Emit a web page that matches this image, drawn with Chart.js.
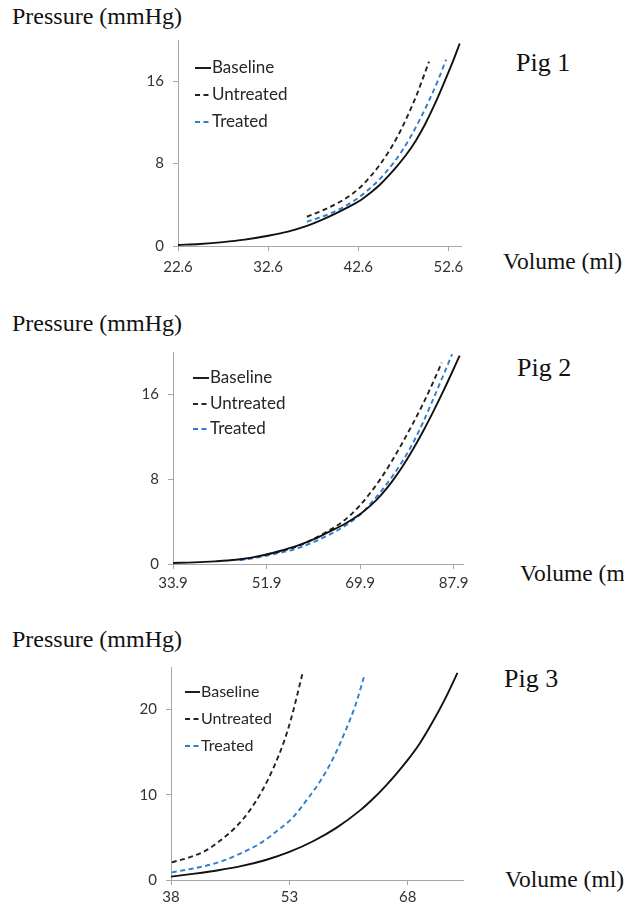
<!DOCTYPE html>
<html><head><meta charset="utf-8">
<script src="https://cdn.jsdelivr.net/npm/chart.js@4.4.0/dist/chart.umd.min.js"></script>
<style>
html,body{margin:0;padding:0;background:#fff;width:624px;height:909px;overflow:hidden;position:relative}
canvas{position:absolute;left:0}
.t{position:absolute;font-family:"Liberation Serif","Times New Roman",serif;color:#111;line-height:1;white-space:nowrap}
</style></head><body>

<div class="t" style="left:12px;top:4px;font-size:24px">Pressure (mmHg)</div>
<div class="t" style="left:516px;top:50px;font-size:26px">Pig 1</div>
<div class="t" style="left:503px;top:250px;font-size:23.5px">Volume (ml)</div>

<div class="t" style="left:12px;top:311px;font-size:24px">Pressure (mmHg)</div>
<div class="t" style="left:517px;top:355px;font-size:26px">Pig 2</div>
<div class="t" style="left:520px;top:562px;font-size:23.5px">Volume (ml)</div>

<div class="t" style="left:12px;top:627px;font-size:24px">Pressure (mmHg)</div>
<div class="t" style="left:504px;top:666px;font-size:26px">Pig 3</div>
<div class="t" style="left:505px;top:868px;font-size:23.5px">Volume (ml)</div>

<canvas id="c1" width="624" height="300" style="top:0px"></canvas>
<canvas id="c2" width="624" height="305" style="top:300px"></canvas>
<canvas id="c3" width="624" height="304" style="top:605px"></canvas>

<script>
// ---------- DATA ----------
const seriesNames = ['Baseline', 'Untreated', 'Treated'];

// Pig 1
const pig1XTicks = [22.6, 32.6, 42.6, 52.6];
const pig1YTicks = [0, 8, 16];
const pig1BaselineVol   = [22.6, 25.0, 27.6, 30.0, 32.6, 34.8, 36.9, 39.0, 41.0, 42.9, 44.0, 45.0, 46.0, 47.0, 48.0, 49.0, 50.0, 51.0, 52.0, 53.0, 53.86];
const pig1BaselinePress = [0.1, 0.2, 0.38, 0.62, 1.0, 1.4, 1.95, 2.7, 3.55, 4.46, 5.2, 5.95, 6.85, 7.85, 8.95, 10.25, 11.8, 13.6, 15.6, 17.7, 19.66];
const pig1UntreatedVol   = [36.9, 38.9, 40.9, 42.0, 43.0, 44.0, 45.0, 46.0, 47.0, 48.0, 49.0, 50.45];
const pig1UntreatedPress = [2.84, 3.55, 4.46, 5.1, 5.85, 6.8, 7.9, 9.2, 10.7, 12.5, 14.5, 17.9];
const pig1TreatedVol   = [36.9, 39.6, 42.25, 44.4, 45.5, 46.5, 47.5, 48.5, 49.5, 50.5, 51.5, 52.35];
const pig1TreatedPress = [2.35, 3.2, 4.46, 6.0, 7.0, 8.05, 9.3, 10.75, 12.4, 14.2, 16.2, 18.1];

// Pig 2
const pig2XTicks = [33.9, 51.9, 69.9, 87.9];
const pig2YTicks = [0, 8, 16];
const pig2BaselineVol   = [33.9, 38.0, 42.0, 46.0, 49.0, 51.9, 55.0, 58.0, 61.15, 64.0, 67.0, 70.0, 72.0, 74.0, 76.0, 78.0, 80.0, 82.0, 84.0, 86.0, 89.06];
const pig2BaselinePress = [0.1, 0.15, 0.25, 0.4, 0.6, 0.9, 1.3, 1.75, 2.36, 3.05, 3.8, 4.75, 5.55, 6.55, 7.75, 9.15, 10.75, 12.5, 14.4, 16.4, 19.65];
const pig2UntreatedVol   = [51.9, 55.0, 58.5, 62.8, 66.0, 68.0, 70.0, 72.0, 74.0, 76.0, 78.0, 80.0, 82.0, 84.0, 85.6];
const pig2UntreatedPress = [0.9, 1.25, 1.8, 2.85, 3.8, 4.6, 5.6, 6.8, 8.15, 9.7, 11.4, 13.2, 15.1, 17.2, 19.0];
const pig2TreatedVol   = [46.7, 50.0, 54.0, 58.0, 62.0, 66.0, 70.0, 72.0, 74.0, 76.0, 78.0, 80.0, 82.0, 84.0, 86.0, 87.6];
const pig2TreatedPress = [0.35, 0.6, 1.0, 1.5, 2.3, 3.3, 4.7, 5.75, 6.9, 8.2, 9.65, 11.35, 13.35, 15.6, 17.9, 19.8];

// Pig 3
const pig3XTicks = [38, 53, 68];
const pig3YTicks = [0, 10, 20];
const pig3BaselineVol   = [38.0, 41.0, 44.0, 47.0, 50.0, 53.0, 56.0, 59.0, 62.0, 63.5, 65.0, 66.5, 68.0, 69.5, 71.0, 72.7, 74.3];
const pig3BaselinePress = [0.4, 0.75, 1.15, 1.65, 2.35, 3.3, 4.55, 6.15, 8.2, 9.45, 10.85, 12.4, 14.1, 16.0, 18.3, 21.2, 24.3];
const pig3UntreatedVol   = [38.1, 40.8, 42.5, 44.2, 46.3, 48.0, 49.5, 51.0, 52.3, 53.3, 54.65];
const pig3UntreatedPress = [2.07, 2.8, 3.5, 4.6, 6.3, 8.2, 10.4, 13.2, 16.2, 19.2, 24.2];
const pig3TreatedVol   = [38.1, 40.8, 43.0, 45.05, 47.0, 49.3, 51.5, 53.5, 55.2, 56.9, 58.5, 60.1, 61.4, 62.5];
const pig3TreatedPress = [0.9, 1.35, 1.8, 2.4, 3.2, 4.3, 5.8, 7.4, 9.4, 11.6, 14.2, 17.5, 20.6, 24.0];

// ---------- STYLE / LAYOUT ----------
const AXIS = '#a6a6a6';
const TICKCOL = '#333333';
const styles = [
  { borderColor: '#111111', borderWidth: 1.9, borderDash: [] },
  { borderColor: '#222222', borderWidth: 1.9, borderDash: [5, 3.5] },
  { borderColor: '#2e7dd1', borderWidth: 1.9, borderDash: [5, 3.5] }
];

const legendPlugin = {
  id: 'inLegend',
  afterDraw(chart, args, opts) {
    const ctx = chart.ctx;
    ctx.save();
    chart.data.datasets.forEach((ds, i) => {
      const y = opts.rows[i];
      ctx.strokeStyle = ds.borderColor;
      ctx.lineWidth = ds.borderWidth;
      ctx.setLineDash(ds.borderDash || []);
      ctx.beginPath();
      ctx.moveTo(opts.x0, y);
      ctx.lineTo(opts.x1, y);
      ctx.stroke();
      ctx.setLineDash([]);
      ctx.fillStyle = '#262626';
      ctx.font = opts.font;
      ctx.textBaseline = 'middle';
      ctx.textAlign = 'left';
      ctx.fillText(ds.label, opts.tx, y);
    });
    ctx.restore();
  }
};

function makeData(vols, presses) {
  return vols.map((v, i) => v.map((x, j) => ({ x: x, y: presses[i][j] })));
}

function makeChart(id, L, series, xTicks, yTicks) {
  const H = document.getElementById(id).height;
  const yW = 40, xH = 30;
  const datasets = series.map((pts, i) => Object.assign({
    label: seriesNames[i],
    data: pts,
    pointRadius: 0,
    fill: false,
    cubicInterpolationMode: 'monotone'
  }, styles[i]));
  return new Chart(document.getElementById(id), {
    type: 'line',
    data: { datasets },
    plugins: [legendPlugin],
    options: {
      responsive: false,
      animation: false,
      devicePixelRatio: 1,
      layout: { padding: { left: L.left - yW, right: 624 - L.right, top: L.top, bottom: H - L.bottom - xH } },
      plugins: {
        legend: { display: false },
        tooltip: { enabled: false },
        inLegend: L.legend
      },
      scales: {
        x: {
          type: 'linear', min: L.xmin, max: L.xmax,
          afterFit: s => { s.height = xH; },
          afterBuildTicks: s => { s.ticks = xTicks.map(v => ({ value: v })); },
          grid: { display: true, drawOnChartArea: false, drawTicks: true, tickLength: 5, color: AXIS },
          border: { display: true, color: AXIS, width: 1 },
          ticks: { color: TICKCOL, font: { family: 'Lato', size: 15 }, padding: L.xpad, maxRotation: 0, autoSkip: false }
        },
        y: {
          type: 'linear', min: 0, max: L.ymax,
          afterFit: s => { s.width = yW; },
          afterBuildTicks: s => { s.ticks = yTicks.map(v => ({ value: v })); },
          grid: { display: true, drawOnChartArea: false, drawTicks: true, tickLength: 5, color: AXIS },
          border: { display: true, color: AXIS, width: 1 },
          ticks: { color: TICKCOL, font: { family: 'Lato', size: 15 }, padding: 9 }
        }
      }
    }
  });
}

makeChart('c1',
  { left: 178, right: 461, top: 40, bottom: 246, xmin: 22.6, xmax: 54.0, ymax: 20, xpad: 7,
    legend: { x0: 195, x1: 211, tx: 212, rows: [68, 95, 122], font: '17px Lato' } },
  makeData([pig1BaselineVol, pig1UntreatedVol, pig1TreatedVol], [pig1BaselinePress, pig1UntreatedPress, pig1TreatedPress]),
  pig1XTicks, pig1YTicks);

makeChart('c2',
  { left: 173, right: 463, top: 52, bottom: 264, xmin: 33.9, xmax: 89.7, ymax: 20, xpad: 5,
    legend: { x0: 193, x1: 209, tx: 210, rows: [78, 104, 129], font: '17px Lato' } },
  makeData([pig2BaselineVol, pig2UntreatedVol, pig2TreatedVol], [pig2BaselinePress, pig2UntreatedPress, pig2TreatedPress]),
  pig2XTicks, pig2YTicks);

makeChart('c3',
  { left: 171, right: 463, top: 62, bottom: 275, xmin: 38, xmax: 75, ymax: 25, xpad: 3,
    legend: { x0: 185, x1: 200, tx: 201, rows: [87, 114, 141], font: '16px Lato' } },
  makeData([pig3BaselineVol, pig3UntreatedVol, pig3TreatedVol], [pig3BaselinePress, pig3UntreatedPress, pig3TreatedPress]),
  pig3XTicks, pig3YTicks);
</script>
</body></html>
